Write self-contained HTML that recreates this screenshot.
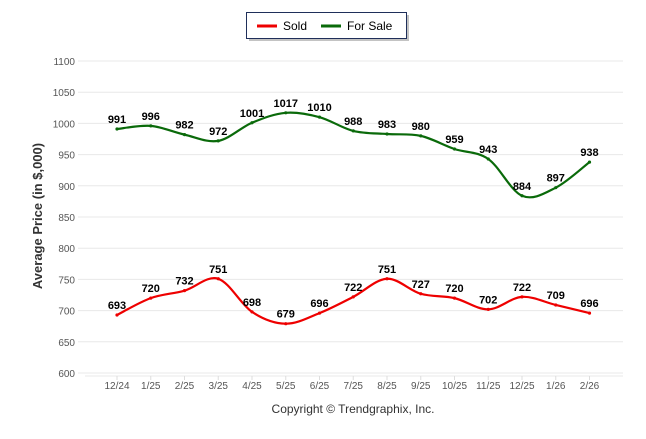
<!DOCTYPE html>
<html><head><meta charset="utf-8"><style>
body{margin:0;background:#fff;width:646px;height:434px;overflow:hidden;font-family:"Liberation Sans",sans-serif}
</style></head><body>
<svg id="chart" width="646" height="434" xmlns="http://www.w3.org/2000/svg">
<g>
<rect x="249" y="15" width="160" height="26" fill="#888" opacity="0.5"/>
<rect x="246.5" y="12.5" width="160" height="26" fill="#fff" stroke="#1f2f5a" stroke-width="1"/>
<line x1="257" y1="26" x2="277" y2="26" stroke="#e00" stroke-width="3"/>
<text x="283" y="30" font-size="12" fill="#000">Sold</text>
<line x1="321" y1="26" x2="341" y2="26" stroke="#0a6a0a" stroke-width="3"/>
<text x="347" y="30" font-size="12" fill="#000">For Sale</text>
</g>
<text transform="translate(42,216) rotate(-90)" text-anchor="middle" font-size="13" font-weight="bold" fill="#333">Average Price (in $,000)</text>
<text x="353" y="413" text-anchor="middle" font-size="12" fill="#333">Copyright © Trendgraphix, Inc.</text>
<g id="grid"></g><g id="series"></g><g id="labels"></g>
</svg>
<script>
const categories=["12/24","1/25","2/25","3/25","4/25","5/25","6/25","7/25","8/25","9/25","10/25","11/25","12/25","1/26","2/26"];
const soldValues=[693,720,732,751,698,679,696,722,751,727,720,702,722,709,696];
const forSaleValues=[991,996,982,972,1001,1017,1010,988,983,980,959,943,884,897,938];
const yTicks=[600,650,700,750,800,850,900,950,1000,1050,1100];
const NS="http://www.w3.org/2000/svg";
const X0=78,X1=623;
function xs(i){return 117+i*33.75;}
function ys(v){return 373-(v-600)*0.624;}
function mk(t,a,p){const e=document.createElementNS(NS,t);for(const k in a)e.setAttribute(k,a[k]);p.appendChild(e);return e;}
const grid=document.getElementById('grid');
yTicks.forEach(v=>{
 const l=mk('line',{x1:X0,x2:X1,y1:ys(v),y2:ys(v),stroke:'#e8e8e8','stroke-width':1},grid);
 
 
 const t=mk('text',{x:75,y:ys(v)+4,'text-anchor':'end','font-size':10,fill:'#555'},grid);
 t.textContent=v;
 
 
});
mk('line',{x1:85,x2:623,y1:376,y2:376,stroke:'#e8e8e8'},grid);
categories.forEach((c,i)=>{
 mk('line',{x1:xs(i),x2:xs(i),y1:376,y2:380,stroke:'#ddd'},grid);
 const t=mk('text',{x:xs(i),y:389,'text-anchor':'middle','font-size':10,fill:'#555'},grid);
 t.textContent=c;
 
 
});
function pathFor(vals){
 const p=vals.map((v,i)=>[xs(i),ys(v)]);
 let d='M'+p[0][0]+','+p[0][1];
 for(let i=0;i<p.length-1;i++){
  const p0=p[Math.max(0,i-1)],p1=p[i],p2=p[i+1],p3=p[Math.min(p.length-1,i+2)];
  const c1=[p1[0]+(p2[0]-p0[0])/6,p1[1]+(p2[1]-p0[1])/6];
  const c2=[p2[0]-(p3[0]-p1[0])/6,p2[1]-(p3[1]-p1[1])/6];
  d+=' C'+c1[0]+','+c1[1]+' '+c2[0]+','+c2[1]+' '+p2[0]+','+p2[1];
 }
 return d;
}
const ser=document.getElementById('series'),lab=document.getElementById('labels');
[[soldValues,'#e00','sold'],[forSaleValues,'#0a6a0a','for-sale']].forEach(([vals,col,nm])=>{
 const pa=mk('path',{d:pathFor(vals),fill:'none',stroke:col,'stroke-width':2.2},ser);
 
 
 vals.forEach((v,i)=>{
  const c=mk('circle',{cx:xs(i),cy:ys(v),r:1.6,fill:col},ser);
  
  
  const t=mk('text',{x:xs(i),y:ys(v)-6,'text-anchor':'middle','font-size':11,'font-weight':'bold',fill:'#000'},lab);
  t.textContent=v;
  
  
 });
});
</script>
</body></html>
